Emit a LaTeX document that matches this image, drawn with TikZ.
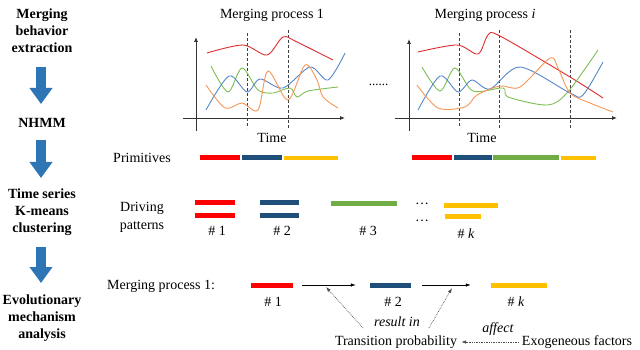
\documentclass[tikz,border=0pt]{standalone}
\usepackage{fontspec}
\setmainfont{Liberation Serif}
\usetikzlibrary{arrows.meta}
\definecolor{bred}{RGB}{255,0,0}
\definecolor{bblue}{RGB}{31,78,121}
\definecolor{byellow}{RGB}{255,192,0}
\definecolor{bgreen}{RGB}{112,173,71}
\definecolor{cred}{RGB}{220,45,45}
\definecolor{cgreen}{RGB}{125,190,85}
\definecolor{cblue}{RGB}{85,135,200}
\definecolor{corange}{RGB}{245,150,85}
\definecolor{barrow}{RGB}{46,117,182}
\begin{document}
\begin{tikzpicture}[x=1pt,y=-1pt,
  txt/.style={inner sep=0pt,font=\rmfamily\fontsize{14pt}{17pt}\selectfont},
  steptxt/.style={txt,align=center,font=\rmfamily\fontsize{14pt}{17pt}\selectfont\bfseries},
  bigarrow/.style={draw=barrow,line width=10pt,-{Triangle[width=22pt,length=16pt]}},
  axis/.style={draw=black!80,line width=0.8pt,-{Latex[length=5pt,width=4pt]}},
  vdash/.style={draw=black!75,line width=0.7pt,dash pattern=on 3pt off 2pt},
  curve/.style={line width=0.9pt,smooth,tension=0.5},
  bar/.style={inner sep=0pt,minimum height=5pt,draw=none},
  flow/.style={draw=black!70,line width=0.7pt,-{Latex[length=5pt,width=3.5pt]},black},
  dotarrow/.style={draw=black!70,line width=0.7pt,densely dotted,-{Latex[length=5pt,width=3.5pt]}}
]
\useasboundingbox (0,0) rectangle (640,350);

% left column
\node[steptxt] (s1) at (42,31) {Merging\\behavior\\extraction};
\node[steptxt] (s2) at (42,123) {NHMM};
\node[steptxt] (s3) at (42,212) {Time series\\K-means\\clustering};
\node[steptxt] (s4) at (42,318) {Evolutionary\\mechanism\\analysis};
\coordinate (a1t) at (41,67); \coordinate (a1b) at (41,104);
\coordinate (a2t) at (41,140); \coordinate (a2b) at (41,178);
\coordinate (a3t) at (41,247); \coordinate (a3b) at (41,283);
\draw[bigarrow] (a1t) -- (a1b);
\draw[bigarrow] (a2t) -- (a2b);
\draw[bigarrow] (a3t) -- (a3b);

% chart 1
\node[txt] (t1) at (272,15) {Merging process 1};
\coordinate (y1a) at (196,131); \coordinate (y1b) at (196,37);
\coordinate (x1a) at (183,118); \coordinate (x1b) at (345,118);
\draw[vdash] (247,33) -- (247,128);
\draw[vdash] (288,30) -- (288,128);
\draw[curve,cred] plot coordinates {(207,53) (243,45) (267,55) (283,37) (297,42) (333,60)};
\draw[curve,cgreen] plot coordinates {(211,66) (228,92) (242,68) (258,90) (273,93) (290,88) (297,97) (308,91) (338,87)};
\draw[curve,cblue] plot coordinates {(206,110) (229,76) (247,92) (260,79) (283,88) (310,67) (328,80) (345,53)};
\draw[curve,corange] plot coordinates {(206,85) (225,108) (242,103) (258,110) (268,71) (288,100) (305,65) (317,80) (323,97) (338,108)};
\draw[axis] (y1a) -- (y1b);
\draw[axis] (x1a) -- (x1b);
\node[txt] (time1) at (272,138) {Time};

\node[txt,font=\rmfamily\fontsize{13pt}{13pt}\selectfont] (dots) at (378.5,85) {......};

% chart 2
\node[txt] (t2) at (485,15) {Merging process \textit{i}};
\coordinate (y2a) at (409,131); \coordinate (y2b) at (409,39);
\coordinate (x2a) at (395,118); \coordinate (x2b) at (617,118);
\draw[vdash] (459,33) -- (459,128);
\draw[vdash] (499,30) -- (499,128);
\draw[vdash] (570,30) -- (570,128);
\draw[curve,cred] plot coordinates {(418,52) (457,45) (478,54) (488,35) (500,36) (570,77) (603,98)};
\draw[curve,cgreen] plot coordinates {(422,67) (440,91) (455,68) (473,91) (503,88) (508,97) (547,105) (567,93) (598,50)};
\draw[curve,cblue] plot coordinates {(418,110) (440,76) (458,92) (472,80) (490,89) (520,67) (570,93) (583,95) (603,62)};
\draw[curve,corange] plot coordinates {(417,85) (438,108) (465,107) (477,95) (500,86) (520,87) (550,58) (558,68) (570,93) (590,103) (613,112)};
\draw[axis] (y2a) -- (y2b);
\draw[axis] (x2a) -- (x2b);
\node[txt] (time2) at (482,138) {Time};

% primitives
\node[txt] (prim) at (142,158) {Primitives};
\node[bar,fill=bred,minimum width=40pt] (p1) at (220,158) {};
\node[bar,fill=bblue,minimum width=40pt] (p2) at (262,158) {};
\node[bar,fill=byellow,minimum width=54pt,minimum height=4.5pt] (p3) at (311,158) {};
\node[bar,fill=bred,minimum width=40pt] (q1) at (432,158) {};
\node[bar,fill=bblue,minimum width=38pt] (q2) at (473,158) {};
\node[bar,fill=bgreen,minimum width=66pt] (q3) at (526,158) {};
\node[bar,fill=byellow,minimum width=35pt,minimum height=4.5pt] (q4) at (578.5,158) {};

% driving patterns
\node[txt,align=center,font=\rmfamily\fontsize{14pt}{18pt}\selectfont] (drv) at (142,217) {Driving\\patterns};
\node[bar,fill=bred,minimum width=40pt] (d1a) at (215,202) {};
\node[bar,fill=bred,minimum width=40pt] (d1b) at (215,215) {};
\node[bar,fill=bblue,minimum width=39pt] (d2a) at (279.5,202) {};
\node[bar,fill=bblue,minimum width=39pt] (d2b) at (279.5,215) {};
\node[bar,fill=bgreen,minimum width=66pt] (d3) at (364,203) {};
\node[bar,fill=byellow,minimum width=54pt] (d4a) at (471,205) {};
\node[bar,fill=byellow,minimum width=36pt] (d4b) at (463,216) {};
\node[txt] (e1) at (422,204) {\dots};
\node[txt] (e2) at (422,221) {\dots};
\node[txt] (h1) at (217,231) {\# 1};
\node[txt] (h2) at (282,231) {\# 2};
\node[txt] (h3) at (368,231) {\# 3};
\node[txt] (h4) at (466,234) {\# \textit{k}};

% evolution
\node[txt,anchor=west] (mp) at (107,286) {Merging process 1:};
\node[bar,fill=bred,minimum width=42pt] (m1) at (272,285) {};
\node[bar,fill=bblue,minimum width=41pt] (m2) at (390.5,285) {};
\node[bar,fill=byellow,minimum width=56pt] (m3) at (519,285) {};
\node[txt] (k1) at (273,302) {\# 1};
\node[txt] (k2) at (393,302) {\# 2};
\node[txt] (k3) at (516,302) {\# \textit{k}};
\draw[flow,shorten <=9pt,shorten >=14pt] (m1.east) -- (m2.west);
\draw[flow,shorten <=11pt,shorten >=20pt] (m2.east) -- (m3.west);
\node[txt] (tp) at (396,342) {Transition probability};
\node[txt] (ef) at (577,342) {Exogeneous factors};
\node[txt] (ri) at (397,322) {\textit{result in}};
\node[txt] (af) at (498,329) {\textit{affect}};
\coordinate (r1s) at (363,328); \coordinate (r1e) at (326,287);
\coordinate (r2s) at (429,328); \coordinate (r2e) at (452,288);
\draw[dotarrow] (r1s) -- (r1e);
\draw[dotarrow] (r2s) -- (r2e);
\draw[dotarrow,shorten <=3pt,shorten >=4pt] (ef.west) -- (tp.east);
\end{tikzpicture}
\end{document}
